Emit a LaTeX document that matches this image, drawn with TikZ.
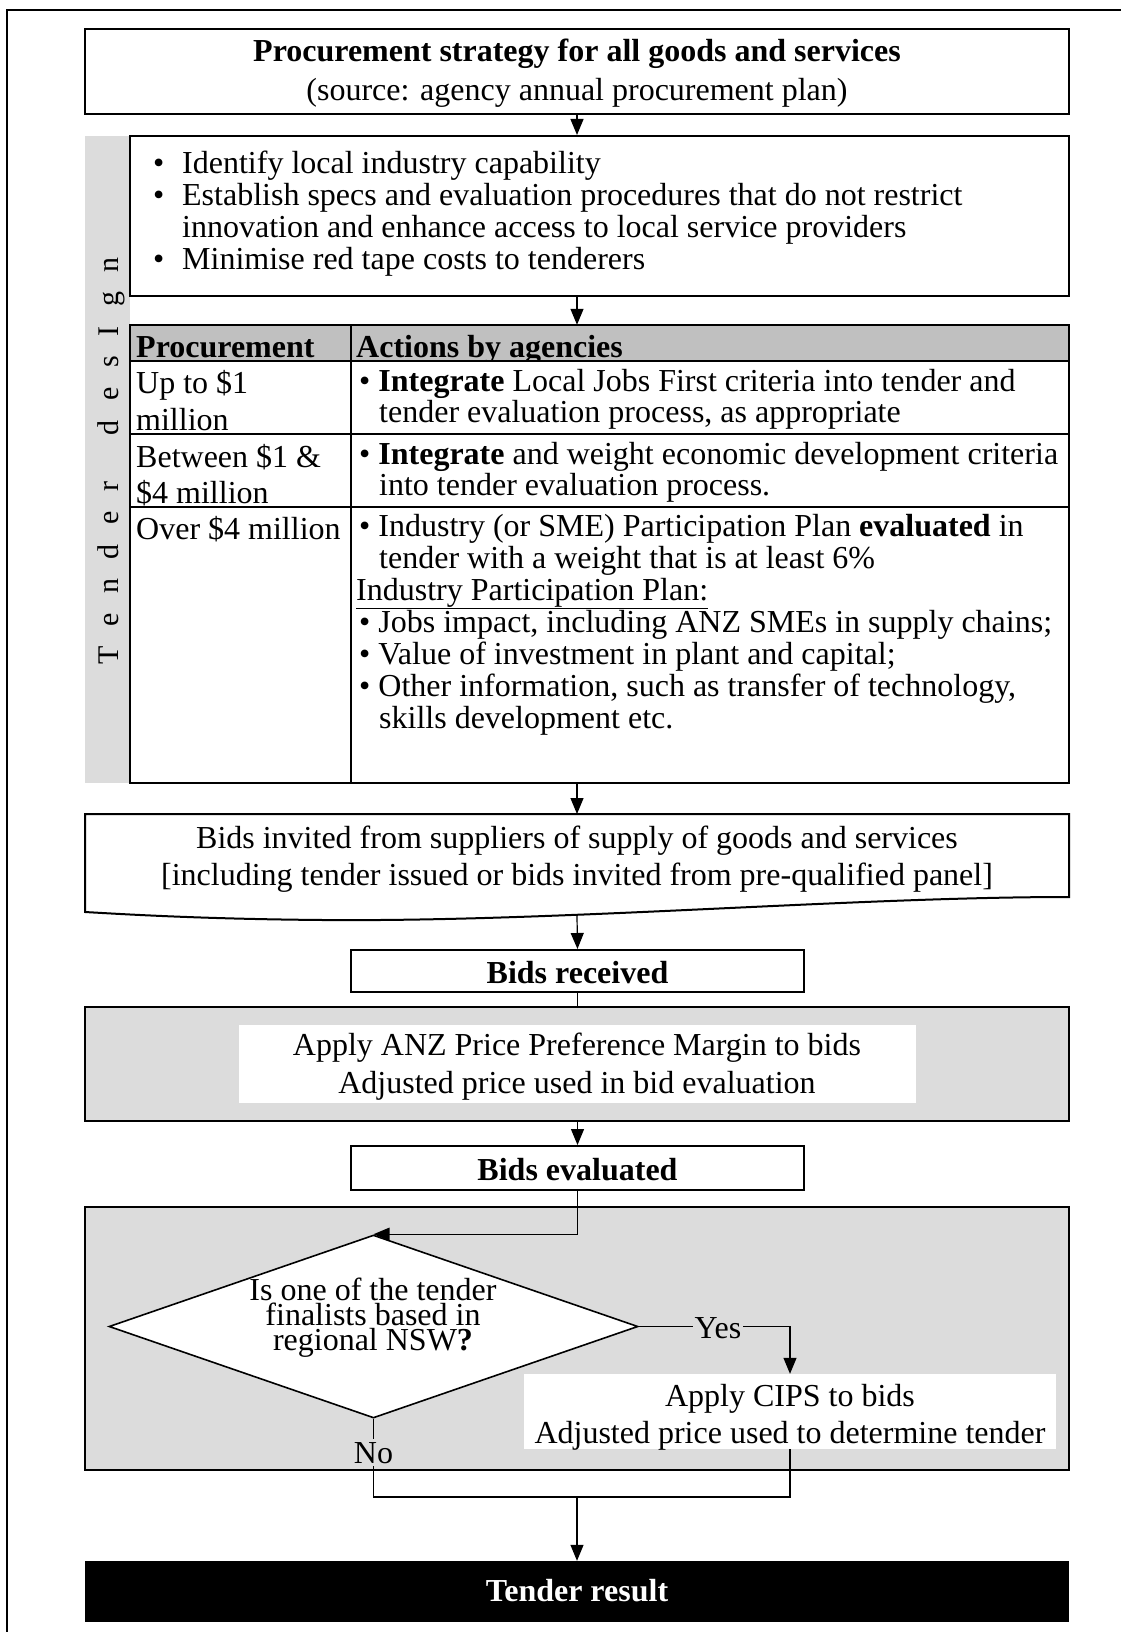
\documentclass[tikz,border=0pt]{standalone}
\usepackage{fontspec}
\setmainfont{Liberation Serif}
\usetikzlibrary{arrows.meta,shapes.geometric}
\definecolor{bandgray}{RGB}{220,220,220}
\definecolor{headgray}{RGB}{192,192,192}
\newcommand\fs{\fontsize{32}{36}\selectfont}
\newcommand\spc{\kern19.6pt}
\begin{document}
\begin{tikzpicture}[x=1pt,y=-1pt,
  every node/.style={inner sep=0pt, font=\fs},
  tl/.style={anchor=base west},
  tc/.style={anchor=base},
  box/.style={draw, line width=2pt, fill=white, rectangle},
  plain/.style={rectangle, fill=white},
  gbox/.style={draw, line width=2pt, fill=bandgray, rectangle},
  arr/.style={line width=1.2pt, -{Triangle[length=16pt,width=13pt]}},
  conn/.style={line width=1.2pt},
  lbl/.style={fill=bandgray, inner xsep=2pt, inner ysep=3pt, anchor=base}]
\useasboundingbox (0,0) rectangle (1120,1632);
% outer frame
\draw[line width=2pt] (7,1640) -- (7,10) -- (1130,10);

% top box
\node[box, minimum width=984pt, minimum height=85.5pt] (top) at (577,71.75) {};
\node[tc, font=\fs\bfseries] (t1) at (577,62) {Procurement strategy for all goods and services};
\node[tc] (t2) at (577,101) {(source: agency annual procurement plan)};

% side band
\node[rectangle, fill=bandgray, minimum width=45pt, minimum height=647pt] (band) at (107.5,459.5) {};
\node[rotate=90, anchor=base, font=\fontsize{30}{30}\selectfont] (bandt) at (118,461)
  {T\spc e\spc n\spc d\spc e\spc r\spc\ \spc d\spc e\spc s\spc I\spc g\spc n};

% bullet box
\node[box, minimum width=939pt, minimum height=160pt] (bul) at (599.5,216) {};
\node[tl] (b1) at (153,174) {\makebox[29pt][l]{•}Identify local industry capability};
\node[tl] (b2) at (153,206) {\makebox[29pt][l]{•}Establish specs and evaluation procedures that do not restrict};
\node[tl] (b3) at (182,237) {innovation and enhance access to local service providers};
\node[tl] (b4) at (153,269) {\makebox[29pt][l]{•}Minimise red tape costs to tenderers};

% table
\node[plain, minimum width=939pt, minimum height=458pt] (tab) at (599.5,554) {};
\fill[headgray] (130,325) rectangle (1069,361);
\begin{scope}
  \clip (130,325) rectangle (1069,361);
  \node[tl] (h1) at (136,357) {\textbf{Procurement}};
  \node[tl] (h2) at (356,357) {\textbf{Actions by agencies}};
\end{scope}
\draw[line width=2pt] (130,361) -- (1069,361) (130,434) -- (1069,434) (130,507) -- (1069,507)
  (351,325) -- (351,783);
\draw[line width=2pt] (tab.north west) rectangle (tab.south east);
\node[tl] (r1a) at (136,393) {Up to \$1};
\node[tl] (r1b) at (136,430) {million};
\node[tl] (r1c) at (359,391) {•\ \textbf{Integrate} Local Jobs First criteria into tender and};
\node[tl] (r1d) at (379,422) {tender evaluation process, as appropriate};
\node[tl] (r2a) at (136,467) {Between \$1 \&};
\node[tl] (r2b) at (136,503) {\$4 million};
\node[tl] (r2c) at (359,464) {•\ \textbf{Integrate} and weight economic development criteria};
\node[tl] (r2d) at (379,495) {into tender evaluation process.};
\node[tl] (r3a) at (136,539) {Over \$4 million};
\node[tl] (r3b) at (359,536) {•\ Industry (or SME) Participation Plan \textbf{evaluated} in};
\node[tl] (r3c) at (379,568) {tender with a weight that is at least 6\%};
\node[tl] (r3d) at (356,600) {\underline{Industry Participation Plan:}};
\node[tl] (r3e) at (359,632) {•\ Jobs impact, including ANZ SMEs in supply chains;};
\node[tl] (r3f) at (359,664) {•\ Value of investment in plant and capital;};
\node[tl] (r3g) at (359,696) {•\ Other information, such as transfer of technology,};
\node[tl] (r3h) at (379,728) {skills development etc.};

% bids invited (document shape)
\coordinate (invt) at (577,814);
\coordinate (invb) at (577,916);
\draw[line width=2pt, fill=white] (85,814) -- (1069,814) -- (1069,897)
  .. controls (850,897) and (560,922) .. (323,920)
  .. controls (200,919) and (120,914) .. (85,912) -- cycle;
\node[tc] (i1) at (577,848) {Bids invited from suppliers of supply of goods and services};
\node[tc] (i2) at (577,885) {[including tender issued or bids invited from pre-qualified panel]};

% bids received
\node[box, minimum width=453pt, minimum height=42pt] (rec) at (577.5,971) {};
\node[tc, font=\fs\bfseries] (rect) at (577.5,983) {Bids received};

% ANZ box
\node[gbox, minimum width=984pt, minimum height=114pt] (anz) at (577,1064) {};
\node[plain, minimum width=677pt, minimum height=78pt] (anzin) at (577.5,1064) {};
\node[tc] (a1) at (577,1055) {Apply ANZ Price Preference Margin to bids};
\node[tc] (a2) at (577,1093) {Adjusted price used in bid evaluation};

% bids evaluated
\node[box, minimum width=453pt, minimum height=44pt] (ev) at (577.5,1168) {};
\node[tc, font=\fs\bfseries] (evt) at (577.5,1180) {Bids evaluated};

% decision box
\node[gbox, minimum width=984pt, minimum height=263pt] (dec) at (577,1338.5) {};
\node[diamond, draw, line width=1.6pt, fill=white, minimum width=529pt, minimum height=183pt] (dia) at (373.5,1326.5) {};
\node[tc] (d1) at (373,1300) {Is one of the tender};
\node[tc] (d2) at (373,1325) {finalists based in};
\node[tc] (d3) at (373,1350) {regional NSW\textbf{?}};
\node[plain, minimum width=532pt, minimum height=75pt] (cips) at (790,1411.5) {};
\node[tc] (c1) at (790,1406) {Apply CIPS to bids};
\node[tc] (c2) at (790,1443) {Adjusted price used to determine tender};

% tender result
\node[rectangle, fill=black, minimum width=984pt, minimum height=61pt] (res) at (577,1591.5) {};
\node[tc, font=\fs\bfseries, text=white] (rest) at (577,1601) {Tender result};

% connectors
\coordinate (m) at (577,1497);
\draw[arr] (top.south) -- (top.south |- bul.north);
\draw[arr] (bul.south -| top.south) -- (tab.north -| top.south);
\draw[arr] (tab.south -| top.south) -- (invt);
\draw[arr] (invb) -- (rec.north);
\draw[conn] (rec.south) -- (rec.south |- anz.north);
\draw[arr] (anz.south -| ev.north) -- (ev.north);
\draw[arr] (ev.south) |- (dia.north);
\draw[arr] (dia.east) -| (cips.north);
\draw[conn] (dia.south) |- (m) -| (cips.south);
\draw[arr] (m) -- (res.north);
\node[lbl] (yes) at (718,1338) {Yes};
\node[lbl] (no) at (dia.south |- 0,1463) {No};
\end{tikzpicture}
\end{document}
